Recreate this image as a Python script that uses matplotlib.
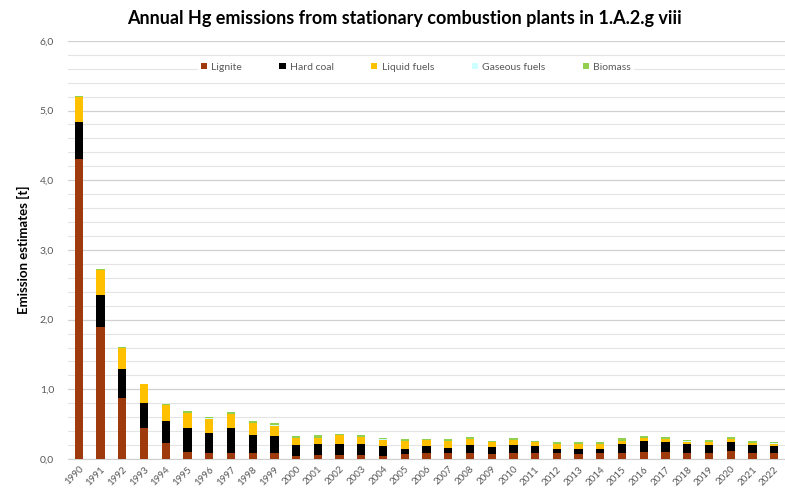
import numpy as np
import matplotlib
matplotlib.use("Agg")
import matplotlib.pyplot as plt
from matplotlib.ticker import MultipleLocator, FuncFormatter

plt.rcParams["font.family"] = ["Lato", "DejaVu Sans"]

# Values (t)
years = [str(y) for y in range(1990, 2023)]
lignite = [4.31, 1.90, 0.87, 0.45, 0.23, 0.10, 0.09, 0.08, 0.08, 0.08, 0.04,
           0.06, 0.06, 0.06, 0.05, 0.07, 0.08, 0.08, 0.09, 0.07, 0.09, 0.08,
           0.08, 0.07, 0.08, 0.09, 0.10, 0.10, 0.09, 0.09, 0.115, 0.08, 0.08]
hard_coal = [0.53, 0.46, 0.42, 0.36, 0.32, 0.35, 0.28, 0.37, 0.26, 0.25, 0.16,
             0.15, 0.16, 0.16, 0.13, 0.08, 0.10, 0.08, 0.11, 0.10, 0.11, 0.10,
             0.065, 0.075, 0.07, 0.12, 0.16, 0.14, 0.12, 0.11, 0.125, 0.12, 0.11]
liquid_fuels = [0.35, 0.35, 0.30, 0.26, 0.22, 0.21, 0.21, 0.20, 0.18, 0.15, 0.10,
                0.09, 0.12, 0.10, 0.10, 0.11, 0.09, 0.10, 0.09, 0.07, 0.07, 0.06,
                0.07, 0.07, 0.065, 0.05, 0.04, 0.05, 0.04, 0.04, 0.05, 0.03, 0.03]
gaseous_fuels = [0.003] * len(years)
biomass = [0.02, 0.02, 0.02, 0.01, 0.02, 0.02, 0.02, 0.02, 0.02, 0.03, 0.03,
           0.04, 0.02, 0.02, 0.02, 0.02, 0.02, 0.02, 0.02, 0.02, 0.03, 0.02,
           0.02, 0.02, 0.02, 0.04, 0.03, 0.03, 0.02, 0.03, 0.03, 0.02, 0.02]

series = [
    ("Lignite", lignite, "#9e3a0b"),
    ("Hard coal", hard_coal, "#000000"),
    ("Liquid fuels", liquid_fuels, "#ffc000"),
    ("Gaseous fuels", gaseous_fuels, "#ccffff"),
    ("Biomass", biomass, "#92d050"),
]

fig = plt.figure(figsize=(7.85, 4.92), dpi=100)
ax = fig.add_axes([0.0866, 0.067, 0.9134, 0.85])

x = np.arange(len(years))
bottom = np.zeros(len(years))
for label, vals, color in series:
    ax.bar(x, vals, width=0.38, bottom=bottom, color=color, label=label, zorder=3)
    bottom += np.array(vals)

ax.set_xlim(-0.5, len(years) - 0.5)
ax.set_ylim(0, 6)
ax.yaxis.set_major_locator(MultipleLocator(1.0))
ax.yaxis.set_minor_locator(MultipleLocator(0.2))
ax.yaxis.set_major_formatter(FuncFormatter(lambda v, p: f"{v:.1f}".replace(".", ",")))
ax.grid(axis="y", which="major", color="#d0d0d0", linewidth=0.9, zorder=0)
ax.grid(axis="y", which="minor", color="#e4e4e4", linewidth=0.8, zorder=0)

ax.set_xticks(x)
ax.set_xticklabels(years, rotation=45, ha="right", rotation_mode="anchor",
                   fontsize=7, color="#595959")
ax.tick_params(axis="y", which="both", length=0, labelsize=7.5, labelcolor="#595959", pad=10)
ax.tick_params(axis="x", length=0, pad=4)
for side in ["top", "right", "left"]:
    ax.spines[side].set_visible(False)
ax.spines["bottom"].set_color("#d0d0d0")

ax.set_ylabel("Emission estimates [t]", fontsize=9.5, fontweight="bold", labelpad=7)
fig.suptitle("Annual Hg emissions from stationary combustion plants in 1.A.2.g viii",
             fontsize=13, fontweight="bold", x=0.515, y=0.98)

leg = ax.legend(loc="center", bbox_to_anchor=(0.485, 0.937), ncol=5, fontsize=7.5,
                frameon=True, facecolor="white", edgecolor="none", framealpha=1,
                handlelength=0.6, handleheight=0.6, handletextpad=0.4,
                columnspacing=3.6, borderpad=0.3)
for t in leg.get_texts():
    t.set_color("#595959")

fig.savefig("out.png", dpi=100)
